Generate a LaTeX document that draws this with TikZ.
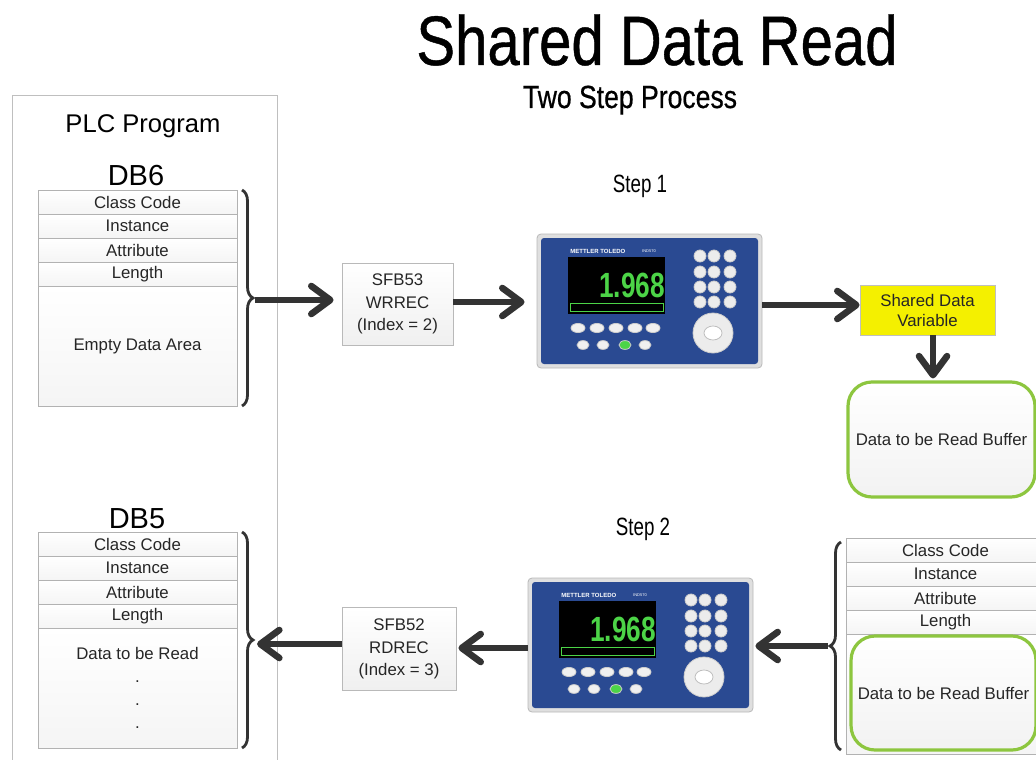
\documentclass[tikz,border=0pt]{standalone}
\usepackage{fontspec}
\setmainfont{Liberation Sans}
\newfontfamily\condfont[FakeStretch=0.83,FakeBold=0.6]{Liberation Sans}
\newfontfamily\narrowfont[FakeStretch=0.75]{Liberation Sans}
\usetikzlibrary{positioning,arrows.meta,decorations.pathreplacing}

\definecolor{arrowgray}{HTML}{333333}
\definecolor{panelblue}{HTML}{2A4A92}
\definecolor{lcdgreen}{HTML}{4CD447}
\definecolor{boxgreen}{HTML}{8DC63F}
\definecolor{noteyellow}{HTML}{F4F000}

\tikzset{
  field/.style={draw=gray!60, top color=white, bottom color=gray!8, minimum width=99.5pt,
    minimum height=12pt, inner sep=0pt, outer sep=0pt, text=black!85,
    font=\fontsize{8.4}{11.5}\selectfont, align=center},
  dataarea/.style={field, minimum height=60pt},
  block/.style={draw=gray!55, top color=white, bottom color=gray!12, inner sep=0pt,
    align=center, text=black!85, font=\fontsize{8.4}{11.25}\selectfont},
  buffer/.style={draw=boxgreen, line width=1.6pt, rounded corners=12pt, top color=white,
    bottom color=gray!10, text=black!85, font=\fontsize{8.4}{10}\selectfont},
  flow/.style={draw=arrowgray, line width=3.3pt, shorten >=4pt,
    -{Straight Barb[length=9.5pt,width=14pt,round]}},
  bracket/.style={decorate, decoration={brace, amplitude=5.5pt}, line width=1.4pt, draw=arrowgray},
  terminal/.pic={
    \node[draw=gray!55, fill=gray!25, rounded corners=2pt, minimum width=112.5pt,
      minimum height=67pt, inner sep=0pt] (-frame) at (112.5,67) {};
    \fill[panelblue, rounded corners=1.5pt] (4,4) rectangle (221,130);
    \fill[black] (31,23) rectangle (128,80);
    \node[text=white, font=\bfseries\fontsize{3}{3}\selectfont, anchor=west, inner sep=0pt] (-brand) at (33,17) {METTLER TOLEDO};
    \node[text=white!80, font=\fontsize{2}{2}\selectfont, inner sep=0pt] (-model) at (112,17) {IND570};
    \node[text=lcdgreen, font=\narrowfont\bfseries\fontsize{17.5}{17.5}\selectfont, anchor=base, inner sep=0pt] (-weight) at (95,63) {1.968};
    \draw[lcdgreen, line width=0.4pt] (33,69) rectangle (126,77);
    \foreach \x in {41,60,79,98,116}
      \filldraw[fill=gray!12, draw=gray!40] (\x,94) ellipse [x radius=3.5pt, y radius=2.3pt];
    \foreach \x in {46,66,108}
      \filldraw[fill=gray!12, draw=gray!40] (\x,111) ellipse [x radius=3pt, y radius=2.2pt];
    \filldraw[fill=lcdgreen, draw=gray!40] (88,111) ellipse [x radius=3pt, y radius=2.2pt];
    \foreach \x in {163,177,193}
      \foreach \y in {22,38,53,68}
        \filldraw[fill=gray!15, draw=gray!40] (\x,\y) circle [radius=3pt];
    \filldraw[fill=gray!15, draw=gray!40] (176,99) circle [radius=10pt];
    \filldraw[fill=white, draw=gray!50] (176,99) ellipse [x radius=4.5pt, y radius=3.5pt];
  }
}

\begin{document}
\begin{tikzpicture}[x=0.5pt, y=-0.5pt]
	\useasboundingbox (0,0) rectangle (1036,759);
	\fill[white] (0,0) rectangle (1036,759);
	% headings
	\node[font=\condfont\fontsize{35}{35}\selectfont, anchor=base, inner sep=0pt] (title) at (657,65) {Shared Data Read};
	\node[font=\condfont\fontsize{16}{16}\selectfont, anchor=base, inner sep=0pt] (subtitle) at (630,108) {Two Step Process};
	\node[font=\narrowfont\fontsize{12.5}{12.5}\selectfont, anchor=base, inner sep=0pt] (step1) at (640,192) {Step 1};
	\node[font=\narrowfont\fontsize{12.5}{12.5}\selectfont, anchor=base, inner sep=0pt] (step2) at (643,535) {Step 2};
	% PLC side
	\node[draw=gray!50, fill=white, anchor=north west, minimum width=132.5pt, minimum height=340pt, inner sep=0pt] (plc) at (12,95) {};
	\node[font=\fontsize{12.8}{13}\selectfont, anchor=base, inner sep=0pt] (plclabel) at (143,133) {PLC Program};
	\node[font=\fontsize{14.5}{15}\selectfont, anchor=base, inner sep=0pt] (db6) at (136,185) {DB6};
	\node[field] (cc6) at (137.5,202) {Class Code};
	\node[field, below=0pt of cc6] (in6) {Instance};
	\node[field, below=0pt of in6] (at6) {Attribute};
	\node[field, below=0pt of at6] (le6) {Length};
	\node[dataarea, below=0pt of le6] (da6) {Empty Data Area};
	\node[font=\fontsize{14.5}{15}\selectfont, anchor=base, inner sep=0pt] (db5) at (137,528) {DB5};
	\node[field] (cc5) at (137.5,544) {Class Code};
	\node[field, below=0pt of cc5] (in5) {Instance};
	\node[field, below=0pt of in5] (at5) {Attribute};
	\node[field, below=0pt of at5] (le5) {Length};
	\node[dataarea, below=0pt of le5] (da5) {Data to be Read\\.\\.\\.};
	\draw[bracket] (242,190) -- (242,406);
	\coordinate (tip6) at (255,300);
	\draw[bracket] (242,532) -- (242,748);
	\coordinate (tip5) at (255,644);
	% step 1
	\node[block, minimum width=55.5pt, minimum height=41pt] (sfb53) at (397.5,304) {SFB53\\WRREC\\(Index = 2)};
	\pic (scale1) at (537,234) {terminal};
	\node[block, draw=gray!50, fill=noteyellow, top color=noteyellow, bottom color=noteyellow, minimum width=67.5pt, minimum height=25pt, font=\fontsize{8.4}{10}\selectfont] (shared) at (927.5,310) {Shared Data\\Variable};
	\node[buffer, minimum width=93.5pt, minimum height=57.5pt] (buffer1) at (941.5,439.5) {Data to be Read Buffer};
	\draw[flow] (tip6) -- (sfb53.west |- tip6);
	\draw[flow, shorten >=6pt] (sfb53.east |- 0,302) -- (scale1-frame.west |- 0,302);
	\draw[flow, shorten >=0pt] (scale1-frame.east |- 0,305) -- (shared.west |- 0,305);
	\draw[flow, shorten >=1pt] (shared.south -| 933,0) -- (buffer1.north -| 933,0);
	% step 2
	\node[field] (ccR) at (945.5,550) {Class Code};
	\node[field, below=0pt of ccR] (inR) {Instance};
	\node[field, below=0pt of inR] (atR) {Attribute};
	\node[field, below=0pt of atR] (leR) {Length};
	\node[dataarea, below=0pt of leR] (daR) {};
	\node[buffer, minimum width=91.5pt, minimum height=57pt] (buffer2) at (943.5,693) {Data to be Read Buffer};
	\draw[bracket] (841,750) -- (841,542);
	\coordinate (tipR) at (828,646);
	\pic (scale2) at (528,578) {terminal};
	\node[block, minimum width=57pt, minimum height=41.5pt] (sfb52) at (399,649) {SFB52\\RDREC\\(Index = 3)};
	\draw[flow, shorten >=1pt] (tipR) -- (scale2-frame.east |- tipR);
	\draw[flow, shorten >=1pt] (scale2-frame.west |- 0,648) -- (sfb52.east |- 0,648);
	\draw[flow, shorten >=1pt] (sfb52.west |- tip5) -- (tip5);
\end{tikzpicture}
\end{document}
